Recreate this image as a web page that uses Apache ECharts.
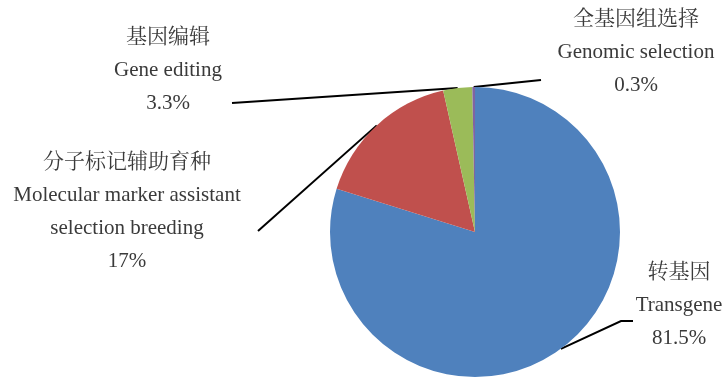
<!DOCTYPE html>
<html>
<head>
<meta charset="utf-8">
<script src="https://cdn.jsdelivr.net/npm/echarts@6/dist/echarts.min.js"></script>
<style>
  html, body { margin: 0; padding: 0; background: #fff; }
  #chart { width: 726px; height: 378px; }
</style>
</head>
<body>
<div id="chart"></div>
<script>
// Breeding technology shares
const namesCn = ['转基因', '分子标记辅助育种', '基因编辑', '全基因组选择'];
const namesEn = ['Transgene', 'Molecular marker assistant\nselection breeding', 'Gene editing', 'Genomic selection'];
const shares = [81.5, 17, 3.3, 0.3];
const sliceColors = ['#4F81BD', '#C0504D', '#9BBB59', '#8064A2'];

// Label block centres and leader-line elbows (screen px)
const labelPlace = [
  { x: 679, y: 305, elbow: [621, 321], end: [633, 321] },
  { x: 127, y: 212, elbow: [258, 231], end: [258, 231] },
  { x: 168, y: 70,  elbow: [232, 103], end: [232, 103] },
  { x: 636, y: 52,  elbow: [541, 80],  end: [541, 80] }
];

const FONT = "'Liberation Serif', 'Times New Roman', 'Noto Serif CJK SC', 'Noto Sans CJK SC', serif";

const chart = echarts.init(document.getElementById('chart'), null, { renderer: 'canvas' });

chart.setOption({
  backgroundColor: '#ffffff',
  animation: false,
  series: [{
    type: 'pie',
    center: [475, 232],
    radius: 145,
    startAngle: 90,
    clockwise: true,
    avoidLabelOverlap: false,
    data: namesCn.map((n, i) => ({
      name: n,
      value: shares[i],
      itemStyle: { color: sliceColors[i] }
    })),
    label: {
      show: true,
      position: 'outside',
      color: '#3a3a3a',
      fontFamily: FONT,
      fontSize: 21,
      lineHeight: 33,
      align: 'center',
      formatter: p => p.name + '\n' + namesEn[p.dataIndex] + '\n' + shares[p.dataIndex] + '%'
    },
    labelLine: {
      show: true,
      length: 10,
      length2: 10,
      lineStyle: { color: '#000', width: 2 }
    },
    labelLayout: function (params) {
      const pl = labelPlace[params.dataIndex];
      const start = params.labelLinePoints ? params.labelLinePoints[0] : pl.elbow;
      return {
        x: pl.x,
        y: pl.y,
        align: 'center',
        verticalAlign: 'middle',
        labelLinePoints: [start, pl.elbow, pl.end]
      };
    }
  }]
});
</script>
</body>
</html>
